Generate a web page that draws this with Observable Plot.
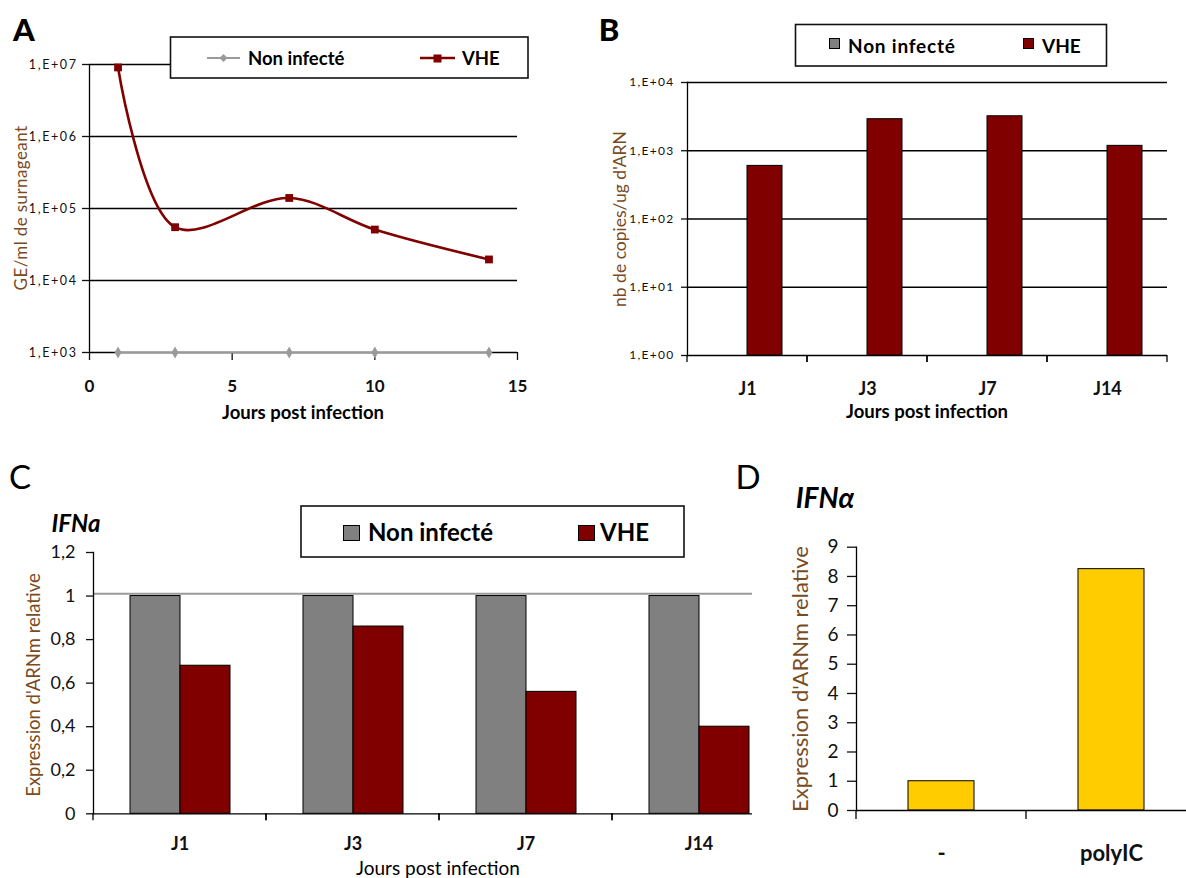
<!DOCTYPE html>
<html>
<head>
<meta charset="utf-8">
<script src="https://cdn.jsdelivr.net/npm/d3@7"></script>
<script src="https://cdn.jsdelivr.net/npm/@observablehq/plot@0.6"></script>
<style>
  html, body { margin: 0; padding: 0; background: #fff; }
  #fig { position: relative; width: 1186px; height: 878px; overflow: hidden; background: #fff; font-family: Lato, "Open Sans", sans-serif; }
  .panel { position: absolute; }
  .txt { position: absolute; white-space: nowrap; line-height: 1; font-family: Lato, "Open Sans", sans-serif; }
</style>
</head>
<body>
<div id="fig">
  <div id="pA" class="panel" style="left:0;top:0;width:540px;height:430px"></div>
  <div id="pB" class="panel" style="left:560px;top:0;width:626px;height:420px"></div>
  <div id="pC" class="panel" style="left:0;top:440px;width:752px;height:440px;overflow:hidden"></div>
  <div id="pD" class="panel" style="left:760px;top:440px;width:440px;height:440px"></div>
</div>
<script>
// ---------------- DATA ----------------
const series = ["Non infecté", "VHE"];

// Panel A : GE/ml de surnageant (log)
const daysA = [1, 3, 7, 10, 14];
const nonA = [1e3, 1e3, 1e3, 1e3, 1e3];
const vheA = [9.1e6, 5.5e4, 1.4e5, 5.1e4, 1.96e4];
const ticksYA = [1e3, 1e4, 1e5, 1e6, 1e7];
const ticksXA = [0, 5, 10, 15];

// Panel B : nb de copies/ug d'ARN (log)
const catsB = ["J1", "J3", "J7", "J14"];
const vheB = [600, 2900, 3200, 1180];
const ticksYB = [1, 10, 100, 1000, 10000];

// Panel C : IFNa relative expression
const catsC = ["J1", "J3", "J7", "J14"];
const nonC = [1, 1, 1, 1];
const vheC = [0.68, 0.86, 0.56, 0.40];
const refC = [1.01];
const ticksYC = [0, 0.2, 0.4, 0.6, 0.8, 1, 1.2];

// Panel D : IFNα relative expression
const catsD = ["-", "polyIC"];
const valD = [1.0, 8.25];
const ticksYD = [0, 1, 2, 3, 4, 5, 6, 7, 8, 9];

// ---------------- STYLE ----------------
const colNon = "#808080";
const colNonLine = "#9a9a9a";
const colVHE = "#800000";
const colD = "#FFCC00";
const colTitle = "#7a4b1e";
const font = "Lato, 'Open Sans', sans-serif";
const baseStyle = {fontFamily: font, background: "transparent", color: "#000", maxWidth: "none", overflow: "visible"};

const fmtE = d => "1,E+" + String(Math.round(Math.log10(d))).padStart(2, "0");
const fmtDec = d => String(d).replace(".", ",");

// tick marks at category boundaries (Excel style), computed from the band scale range
function bandTicks(n, len, sw) {
  return (index, scales, values, dimensions) => {
    const [a, b] = scales.x.range();
    const y0 = dimensions.height - dimensions.marginBottom;
    const g = d3.create("svg:g").attr("stroke", "#000").attr("stroke-width", sw);
    for (let i = 0; i <= n; i++) {
      const x = a + (b - a) * i / n;
      g.append("line").attr("x1", x).attr("x2", x).attr("y1", y0).attr("y2", y0 + len);
    }
    return g.node();
  };
}

// ---------------- PANEL A ----------------
const rowsNonA = daysA.map((d, i) => ({day: d, value: nonA[i], series: series[0]}));
const rowsVheA = daysA.map((d, i) => ({day: d, value: vheA[i], series: series[1]}));
const plotA = Plot.plot({
  width: 540, height: 430,
  marginLeft: 89, marginRight: 23, marginTop: 64, marginBottom: 78,
  style: baseStyle,
  x: {domain: [0, 15]},
  y: {type: "log", domain: [1e3, 1e7]},
  marks: [
    Plot.ruleY(ticksYA, {stroke: "#000", strokeWidth: 1.3}),
    Plot.ruleX([0], {stroke: "#000", strokeWidth: 1.3}),
    Plot.axisY({ticks: ticksYA, tickFormat: fmtE, tickSize: 7, tickPadding: 5, fontSize: 12.5, strokeWidth: 1.3, label: null, color: "#111"}),
    Plot.axisX({ticks: ticksXA, tickSize: 8, tickPadding: 19, fontSize: 17, fontWeight: "bold", strokeWidth: 1.3, label: null, color: "#111"}),
    Plot.line(rowsNonA, {x: "day", y: "value", stroke: colNonLine, strokeWidth: 2}),
    Plot.dot(rowsNonA, {x: "day", y: "value", symbol: "diamond", r: 3.6, fill: colNonLine}),
    Plot.line(rowsVheA, {x: "day", y: "value", stroke: colVHE, strokeWidth: 2.6, curve: "catmull-rom"}),
    Plot.dot(rowsVheA, {x: "day", y: "value", symbol: "square", r: 4.4, fill: colVHE})
  ]
});
d3.select(plotA).selectAll('[aria-label="y-axis tick label"] text').attr("letter-spacing", "1.6");
document.getElementById("pA").appendChild(plotA);

// ---------------- PANEL B ----------------
const rowsB = catsB.map((c, i) => ({day: c, series: series[1], value: vheB[i]}));
const plotB = Plot.plot({
  width: 626, height: 420,
  marginLeft: 127, marginRight: 19, marginTop: 82, marginBottom: 65,
  style: baseStyle,
  fx: {domain: catsB, padding: 0},
  x: {domain: series, paddingInner: 0, paddingOuter: 0.714, axis: null},
  y: {type: "log", domain: [1, 1e4]},
  color: {domain: series, range: [colNon, colVHE]},
  marks: [
    Plot.ruleY(ticksYB, {stroke: "#000", strokeWidth: 1.3}),
    Plot.barY(rowsB, {fx: "day", x: "series", y1: 1, y2: "value", fill: "series", stroke: "#000", strokeWidth: 1}),
    Plot.frame({anchor: "left", facetAnchor: "left", stroke: "#000", strokeWidth: 1.3}),
    Plot.axisY({ticks: ticksYB, tickFormat: fmtE, tickSize: 6, tickPadding: 7, fontSize: 12, strokeWidth: 1.3, label: null, color: "#111"}),
    Plot.axisFx({anchor: "bottom", tickSize: 0, tickPadding: 27, fontSize: 18, fontWeight: "bold", label: null, color: "#111"}),
    bandTicks(1, 7, 1.3)
  ]
});
d3.select(plotB).selectAll('[aria-label="y-axis tick label"] text').attr("letter-spacing", "1.3");
document.getElementById("pB").appendChild(plotB);

// ---------------- PANEL C ----------------
const rowsC = [
  ...catsC.map((c, i) => ({day: c, series: series[0], value: nonC[i]})),
  ...catsC.map((c, i) => ({day: c, series: series[1], value: vheC[i]}))
];
const plotC = Plot.plot({
  width: 800, height: 440,
  marginLeft: 92, marginRight: 15, marginTop: 112, marginBottom: 66.7,
  style: baseStyle,
  fx: {domain: catsC, padding: 0},
  x: {domain: series, paddingInner: 0, paddingOuter: 0.718, axis: null},
  y: {domain: [0, 1.2]},
  color: {domain: series, range: [colNon, colVHE]},
  marks: [
    Plot.barY(rowsC, {fx: "day", x: "series", y: "value", fill: "series", stroke: "#000", strokeWidth: 1}),
    Plot.ruleY(refC, {stroke: colNonLine, strokeWidth: 2}),
    Plot.ruleY([0], {stroke: "#000", strokeWidth: 1.3}),
    Plot.frame({anchor: "left", facetAnchor: "left", stroke: "#000", strokeWidth: 1.3}),
    Plot.axisY({ticks: ticksYC, tickFormat: fmtDec, tickSize: 7, tickPadding: 11, fontSize: 18, strokeWidth: 1.3, label: null, color: "#111"}),
    Plot.axisFx({anchor: "bottom", tickSize: 0, tickPadding: 23, fontSize: 18, fontWeight: "bold", label: null, color: "#111"}),
    bandTicks(1, 7, 1.3)
  ]
});
document.getElementById("pC").appendChild(plotC);

// ---------------- PANEL D ----------------
const rowsD = catsD.map((c, i) => ({cond: c, value: valD[i]}));
const plotD = Plot.plot({
  width: 440, height: 440,
  marginLeft: 96, marginRight: 4, marginTop: 106.7, marginBottom: 70,
  style: baseStyle,
  x: {domain: catsD, paddingInner: 0.612, paddingOuter: 0.306},
  y: {domain: [0, 9]},
  marks: [
    Plot.barY(rowsD, {x: "cond", y: "value", fill: colD, stroke: "#000", strokeWidth: 1}),
    Plot.ruleY([0], {stroke: "#000", strokeWidth: 1.3}),
    Plot.frame({anchor: "left", stroke: "#000", strokeWidth: 1.3}),
    Plot.axisY({ticks: ticksYD, tickSize: 9, tickPadding: 9, fontSize: 19, strokeWidth: 1.3, label: null, color: "#111"}),
    Plot.axisX({tickSize: 0, tickPadding: 35, fontSize: 22, fontWeight: "bold", label: null, color: "#111"}),
    bandTicks(catsD.length, 9, 1.3)
  ]
});
document.getElementById("pD").appendChild(plotD);

// ---------------- OVERLAY: legends ----------------
const fig = document.getElementById("fig");
const ov = d3.select(fig).append("svg")
  .attr("width", 1186).attr("height", 878)
  .style("position", "absolute").style("left", 0).style("top", 0).style("pointer-events", "none");

// legend A
ov.append("rect").attr("x", 170.5).attr("y", 37).attr("width", 357.5).attr("height", 41).attr("fill", "#fff").attr("stroke", "#111").attr("stroke-width", 1.6);
ov.append("line").attr("x1", 207).attr("x2", 240).attr("y1", 58).attr("y2", 58).attr("stroke", colNonLine).attr("stroke-width", 2);
ov.append("path").attr("d", "M223.5,54 L227.5,58 L223.5,62 L219.5,58 Z").attr("fill", colNonLine);
ov.append("line").attr("x1", 420).attr("x2", 455).attr("y1", 58).attr("y2", 58).attr("stroke", colVHE).attr("stroke-width", 2.6);
ov.append("rect").attr("x", 433.5).attr("y", 54.5).attr("width", 8).attr("height", 8).attr("fill", colVHE);

// legend B
ov.append("rect").attr("x", 795.5).attr("y", 24.5).attr("width", 311).attr("height", 41.5).attr("fill", "#fff").attr("stroke", "#111").attr("stroke-width", 1.6);
ov.append("rect").attr("x", 829.5).attr("y", 38.5).attr("width", 10).attr("height", 10).attr("fill", colNon).attr("stroke", "#000");
ov.append("rect").attr("x", 1023.5).attr("y", 38.5).attr("width", 10).attr("height", 10).attr("fill", colVHE).attr("stroke", "#000");

// legend C
ov.append("rect").attr("x", 301).attr("y", 506).attr("width", 383).attr("height", 51).attr("fill", "#fff").attr("stroke", "#111").attr("stroke-width", 1.6);
ov.append("rect").attr("x", 343.5).attr("y", 525.5).attr("width", 16).attr("height", 15).attr("fill", colNon).attr("stroke", "#000");
ov.append("rect").attr("x", 578.5).attr("y", 525.5).attr("width", 16).attr("height", 15).attr("fill", colVHE).attr("stroke", "#000");

// ---------------- TEXT ----------------
function addText(txt, x, y, o = {}) {
  const d = document.createElement("div");
  d.className = "txt";
  d.textContent = txt;
  const tx = o.anchor === "start" ? "0" : "-50%";
  Object.assign(d.style, {
    left: x + "px", top: y + "px",
    fontSize: (o.size || 16) + "px",
    fontWeight: o.weight || "normal",
    fontStyle: o.italic ? "italic" : "normal",
    color: o.color || "#000",
    letterSpacing: (o.ls || 0) + "px",
    transform: `translate(${tx},-50%)` + (o.rotate ? " rotate(-90deg)" : "")
  });
  fig.appendChild(d);
}

// panel letters
addText("A", 24, 29, {size: 31, weight: 900});
addText("B", 609, 29, {size: 31, weight: 900});
addText("C", 20, 476, {size: 33});
addText("D", 748, 476, {size: 33});

// legend labels
addText(series[0], 248, 58, {anchor: "start", size: 18.5, weight: "bold"});
addText(series[1], 462, 58, {anchor: "start", size: 18.5, weight: "bold"});
addText(series[0], 848, 45, {anchor: "start", size: 19, weight: "bold", ls: 0.8});
addText(series[1], 1042, 45, {anchor: "start", size: 19, weight: "bold"});
addText(series[0], 368, 532, {anchor: "start", size: 24, weight: "bold"});
addText(series[1], 600, 532, {anchor: "start", size: 24, weight: "bold"});

// axis titles
addText("GE/ml de surnageant", 20, 208, {size: 17, color: colTitle, rotate: true, ls: 0.4});
addText("Jours post infection", 303, 412, {size: 18.5, weight: "bold"});
addText("nb de copies/ug d'ARN", 620, 219, {size: 17.5, color: colTitle, rotate: true});
addText("Jours post infection", 927, 411, {size: 18.5, weight: "bold"});
addText("IFNa", 76, 523, {size: 24, weight: "bold", italic: true});
addText("Expression d'ARNm relative", 33, 685, {size: 18.5, color: colTitle, rotate: true});
addText("Jours post infection", 438, 867, {size: 19});
addText("IFNα", 825, 497, {size: 28, weight: "bold", italic: true});
addText("Expression d'ARNm relative", 800, 679, {size: 22, color: colTitle, rotate: true});
</script>
</body>
</html>
